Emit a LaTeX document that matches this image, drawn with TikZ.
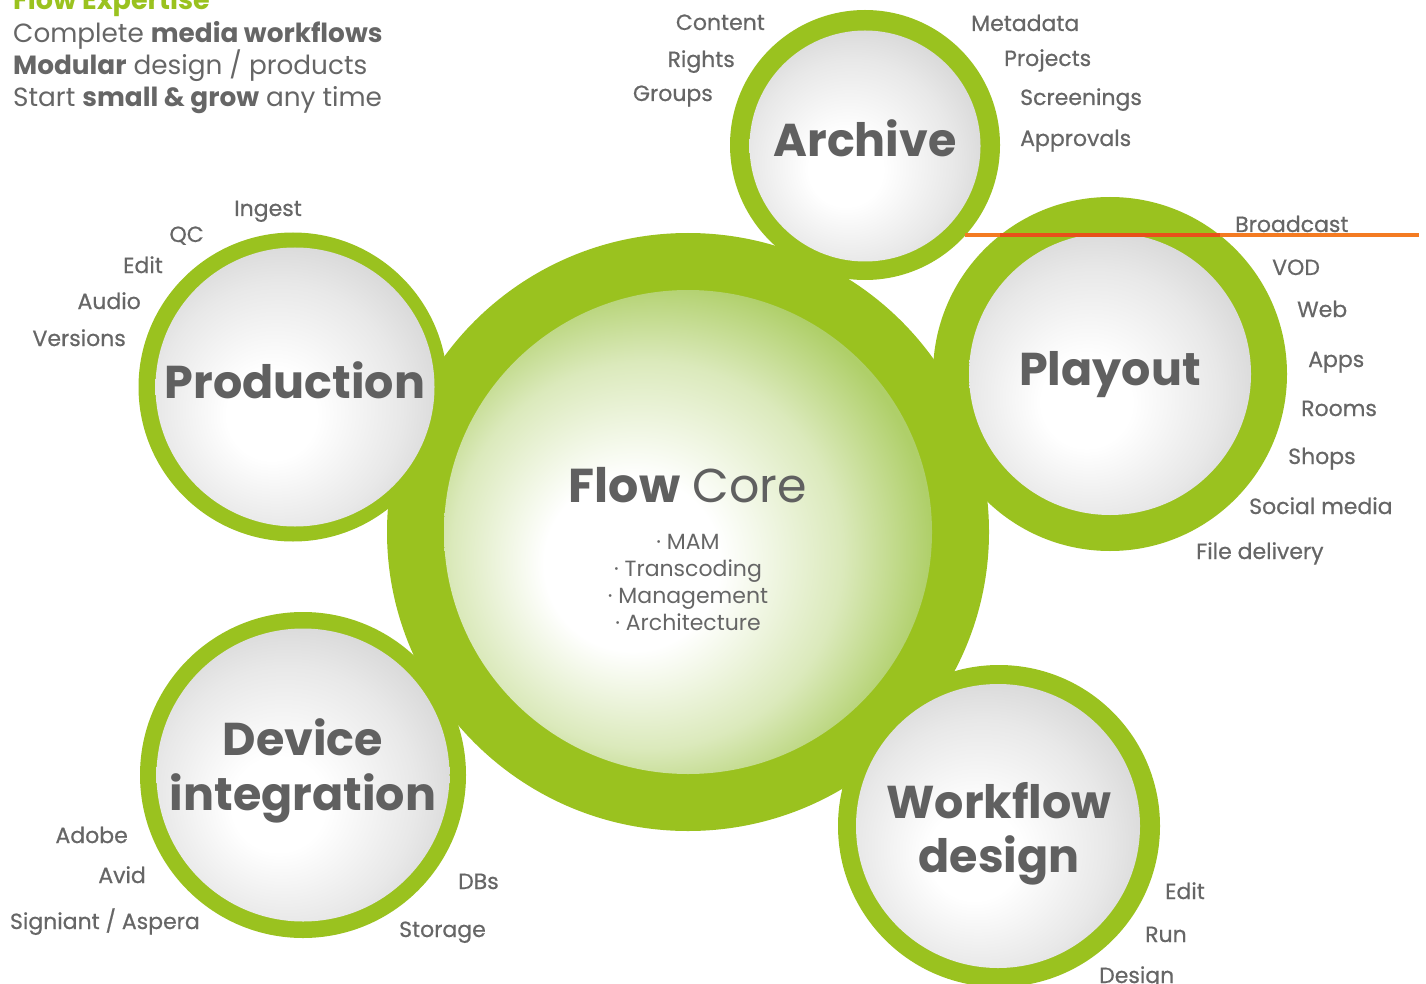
\documentclass[tikz,border=0pt]{standalone}
\usepackage{fontspec}
\setmainfont{Poppins}
\newfontfamily\lblfont[FakeBold=0.6]{Poppins}
\usetikzlibrary{shapes.geometric}
\definecolor{ringgreen}{HTML}{9AC21F}
\definecolor{coregreen}{HTML}{AFCF69}
\definecolor{txtc}{HTML}{666666}
\definecolor{ttlc}{HTML}{606060}
\definecolor{orangeline}{HTML}{F47B22}
\definecolor{redline}{HTML}{E8501A}
\pgfdeclareradialshading{ballshade}{\pgfpoint{-5bp}{-6bp}}{color(0bp)=(white); color(8bp)=(white); color(22bp)=(black!9); color(30bp)=(black!16); color(50bp)=(black!16)}
\pgfdeclareradialshading{coreshade}{\pgfpoint{-7bp}{-4bp}}{color(0bp)=(white); color(9bp)=(white); color(20bp)=(coregreen!45); color(28bp)=(coregreen); color(50bp)=(coregreen)}
\begin{document}
\begin{tikzpicture}[x=1pt,y=-1pt,
  ringc/.style={circle, fill=ringgreen, inner sep=0pt, outer sep=0pt},
  ball/.style={circle, shading=ballshade, inner sep=0pt, outer sep=0pt},
  ttl/.style={font=\fontsize{46}{55}\selectfont\bfseries, text=ttlc, inner sep=0pt},
  lbl/.style={font=\lblfont\fontsize{22}{26}\selectfont, text=txtc, inner sep=0pt},
  bul/.style={font=\fontsize{22}{27}\selectfont, text=txtc, inner sep=0pt},
  head/.style={font=\fontsize{26.3}{33}\selectfont, text=txtc, inner sep=0pt, anchor=base west},
  bline/.style={line width=3.5pt}]
\useasboundingbox (0,0) rectangle (1426,984);
% rings
\node[ellipse, fill=ringgreen, inner sep=0pt, minimum width=602pt, minimum height=598pt] (coreR) at (688,532) {};
\node[ringc, minimum size=270pt] (archR) at (865,145) {};
\node[ringc, minimum size=309pt] (prodR) at (293,387) {};
\node[ringc, minimum size=354pt] (playR) at (1110,374) {};
\node[ringc, minimum size=326pt] (devR) at (303,775) {};
\node[ringc, minimum size=322pt] (wfR) at (999,826) {};
% inner discs
\node[ellipse, shading=coreshade, inner sep=0pt, minimum width=488pt, minimum height=484pt] (core) at (688,532) {};
\node[ball, minimum size=231pt] (arch) at (865,146) {};
\node[ball, minimum size=279pt] (prod) at (295,387) {};
\node[ball, minimum size=282pt] (play) at (1110,374) {};
\node[ball, minimum size=293pt] (dev) at (303,775) {};
\node[ball, minimum size=284pt] (wf) at (998,826) {};
% orange line
\coordinate (oa) at (965,235);
\coordinate (ob) at (1000,235);
\coordinate (oc) at (1220,235);
\coordinate (od) at (1419,235);
\draw[bline, orangeline] (oa) -- (od);
\draw[bline, redline] (ob) -- (oc);
% titles
\node[ttl, anchor=base] (tArch) at (865,157) {Archive};
\node[ttl, anchor=base] (tProd) at (295,398) {Production};
\node[ttl, anchor=base] (tPlay) at (1110,385) {Playout};
\node[ttl, anchor=base] (tDev1) at (303,755) {Device};
\node[ttl, anchor=base] (tDev2) at (303,810) {integration};
\node[ttl, anchor=base] (tWf1) at (999,818) {Workflow};
\node[ttl, anchor=base] (tWf2) at (999,872) {design};
\node[ttl, anchor=base, font=\fontsize{47.5}{55}\selectfont] (tCore) at (688,502) {\textbf{Flow} Core};
\node[bul, anchor=base] (b1) at (688,549) {· MAM};
\node[bul, anchor=base] (b2) at (688,576) {· Transcoding};
\node[bul, anchor=base] (b3) at (688,603) {· Management};
\node[bul, anchor=base] (b4) at (688,630) {· Architecture};
% header
\node[head, text=ringgreen, font=\fontsize{27}{33}\selectfont\bfseries] (h0) at (13,10) {Flow Expertise};
\node[head] (h1) at (13,43) {Complete \textbf{media workflows}};
\node[head] (h2) at (13,75) {\textbf{Modular} design / products};
\node[head] (h3) at (13,107) {Start \textbf{small \& grow} any time};
% archive labels
\node[lbl, anchor=base east] (lContent) at (765,30) {Content};
\node[lbl, anchor=base east] (lRights) at (735,67) {Rights};
\node[lbl, anchor=base east] (lGroups) at (713,101) {Groups};
\node[lbl, anchor=base west] (lMeta) at (971,31) {Metadata};
\node[lbl, anchor=base west] (lProj) at (1004,66) {Projects};
\node[lbl, anchor=base west] (lScreen) at (1020,105) {Screenings};
\node[lbl, anchor=base west] (lAppr) at (1020,146) {Approvals};
% production labels
\node[lbl, anchor=base] (lIngest) at (268,216) {Ingest};
\node[lbl, anchor=base east] (lQC) at (204,242) {QC};
\node[lbl, anchor=base east] (lEdit) at (163,273) {Edit};
\node[lbl, anchor=base east] (lAudio) at (141,309) {Audio};
\node[lbl, anchor=base east] (lVers) at (126,346) {Versions};
% playout labels
\node[lbl, anchor=base west] (lBroad) at (1235,232) {Broadcast};
\node[lbl, anchor=base west] (lVOD) at (1272,275) {VOD};
\node[lbl, anchor=base west] (lWeb) at (1297,317) {Web};
\node[lbl, anchor=base west] (lApps) at (1308,367) {Apps};
\node[lbl, anchor=base west] (lRooms) at (1301,416) {Rooms};
\node[lbl, anchor=base west] (lShops) at (1288,464) {Shops};
\node[lbl, anchor=base west] (lSocial) at (1249,514) {Social media};
\node[lbl, anchor=base west] (lFile) at (1196,559) {File delivery};
% device labels
\node[lbl, anchor=base east] (lAdobe) at (128,843) {Adobe};
\node[lbl, anchor=base east] (lAvid) at (146,883) {Avid};
\node[lbl, anchor=base east] (lSign) at (200,929) {Signiant / Aspera};
\node[lbl, anchor=base west] (lDBs) at (458,889) {DBs};
\node[lbl, anchor=base west] (lStor) at (399,937) {Storage};
% workflow labels
\node[lbl, anchor=base west] (lWEdit) at (1165,899) {Edit};
\node[lbl, anchor=base west] (lRun) at (1145,942) {Run};
\node[lbl, anchor=base west] (lDesign) at (1099,983) {Design};
\end{tikzpicture}
\end{document}
